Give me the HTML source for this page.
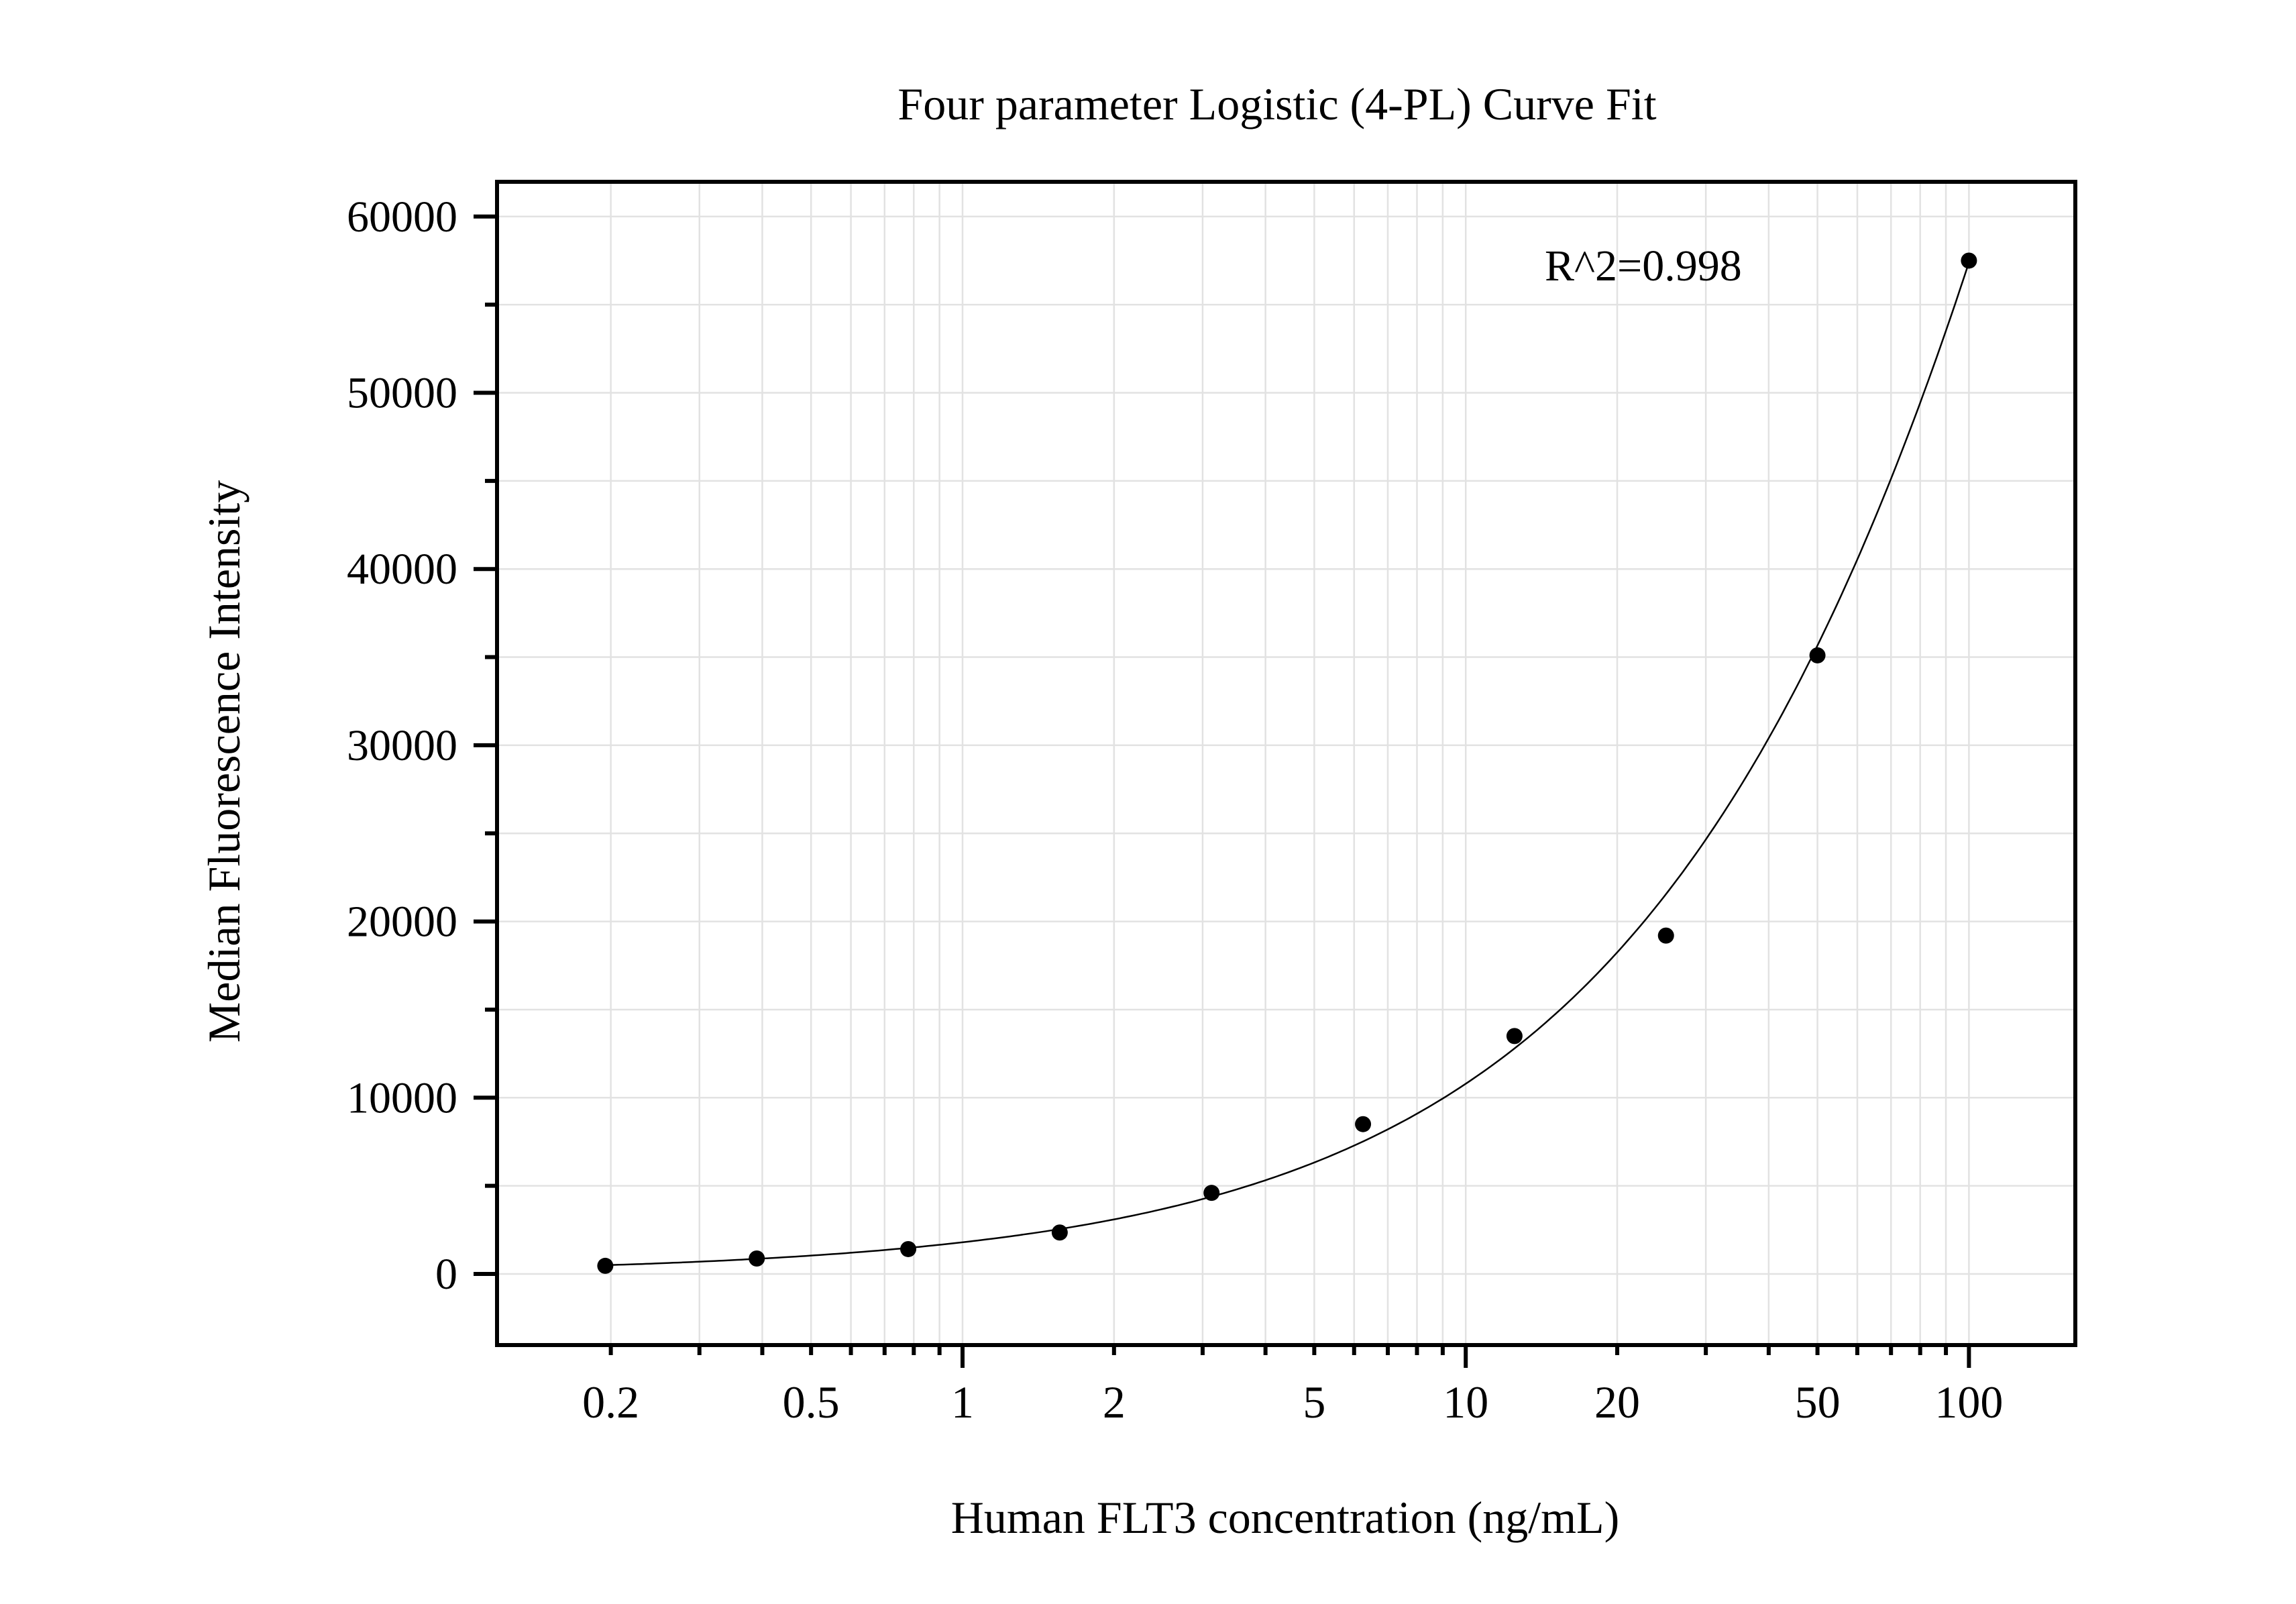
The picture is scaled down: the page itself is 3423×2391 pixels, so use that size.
<!DOCTYPE html>
<html><head><meta charset="utf-8"><style>
html,body{margin:0;padding:0;background:#fff;}
svg{display:block;font-family:"Liberation Serif",serif;}
</style></head><body>
<svg id="chart" width="3423" height="2391" viewBox="0 0 3423 2391" xmlns="http://www.w3.org/2000/svg">
<rect width="3423" height="2391" fill="#fff"/>
<g id="grid"></g>
<g id="curve"></g>
<g id="points"></g>
<g id="axes"></g>
<text x="1904" y="178" font-size="68" text-anchor="middle">Four parameter Logistic (4-PL) Curve Fit</text>
<text x="1916" y="2285" font-size="68" text-anchor="middle">Human FLT3 concentration (ng/mL)</text>
<text transform="translate(357,1135) rotate(-90)" font-size="68" text-anchor="middle">Median Fluorescence Intensity</text>
<text x="2303" y="418" font-size="66">R^2=0.998</text>
</svg>
<script>
const concentrations=[0.195,0.39,0.78,1.56,3.125,6.25,12.5,25,50,100];
const mfiValues=[460,875,1410,2350,4600,8500,13500,19200,35100,57500];
const fitParams=[0,350000,786,0.79]; // A(bottom), D(top), C, B
const xTickLabels=["0.2","0.5","1","2","5","10","20","50","100"];
const xTickValues=[0.2,0.5,1,2,5,10,20,50,100];
const yTickValues=[0,10000,20000,30000,40000,50000,60000];

const NS="http://www.w3.org/2000/svg";
const L=741,R=3094,T=271,B=2005;
function xs(v){return 1435+750.2*Math.log10(v);}
function ys(v){return 1899-v*0.02627;}
function mk(tag,attrs,parent){const e=document.createElementNS(NS,tag);for(const k in attrs)e.setAttribute(k,attrs[k]);parent.appendChild(e);return e;}
const grid=document.getElementById('grid'),axes=document.getElementById('axes'),pts=document.getElementById('points'),cv=document.getElementById('curve');

// x grid + ticks
const minorX=[];
[0.1,1,10].forEach(d=>{for(let m=2;m<=9;m++)minorX.push(m*d);});
minorX.push(1,10,100);
minorX.forEach(v=>{
  if(v<0.2||v>100)return;
  const x=xs(v);
  const g=mk('line',{x1:x,x2:x,y1:T,y2:B,stroke:'#e2e2e2','stroke-width':2.5},grid);
  
  
  const major=(v===1||v===10||v===100);
  const t=mk('line',{x1:x,x2:x,y1:B,y2:B+(major?34:15),stroke:'#000','stroke-width':6},axes);
  
  
});
xTickValues.forEach((v,i)=>{
  const t=mk('text',{x:xs(v),y:2113,'font-size':68,'text-anchor':'middle'},axes);
  t.textContent=xTickLabels[i];
  
  
});
// y grid + ticks
for(let v=0;v<=60000;v+=5000){
  const y=ys(v);
  const g=mk('line',{x1:L,x2:R,y1:y,y2:y,stroke:'#e2e2e2','stroke-width':2.5},grid);
  
  
  const major=v%10000===0;
  const t=mk('line',{x1:L-(major?35:18),x2:L,y1:y,y2:y,stroke:'#000','stroke-width':6},axes);
  
  
}
yTickValues.forEach(v=>{
  const t=mk('text',{x:682,y:ys(v)+22,'font-size':66,'text-anchor':'end'},axes);
  t.textContent=String(v);
  
  
});
// frame
const fr=mk('rect',{x:L,y:T,width:R-L,height:B-T,fill:'none',stroke:'#000','stroke-width':6},axes);


// curve
function fit(x){const[A,D,C,Bp]=fitParams;return D+(A-D)/(1+Math.pow(x/C,Bp));}
let d='';
const x0=Math.log10(concentrations[0]),x1=Math.log10(concentrations[concentrations.length-1]);
for(let i=0;i<=300;i++){const lx=x0+(x1-x0)*i/300;const v=Math.pow(10,lx);d+=(i?'L':'M')+xs(v).toFixed(1)+','+ys(fit(v)).toFixed(1);}
const p=mk('path',{d:d,fill:'none',stroke:'#000','stroke-width':2.5},cv);


// points
concentrations.forEach((c,i)=>{
  const e=mk('circle',{cx:xs(c),cy:ys(mfiValues[i]),r:12,fill:'#000'},pts);
  
  
});
</script>
</body></html>
